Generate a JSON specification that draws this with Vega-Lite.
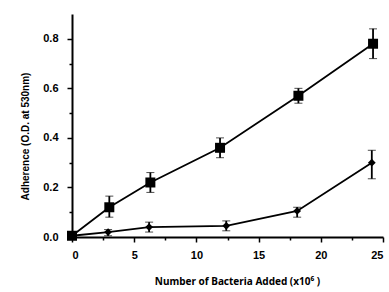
{
  "$schema": "https://vega.github.io/schema/vega-lite/v6.json",
  "width": 311,
  "height": 223,
  "autosize": "none",
  "padding": {"left": 72, "top": 14, "right": 6, "bottom": 55},
  "config": {
    "view": {"stroke": null},
    "font": "Liberation Sans",
    "axis": {
      "domainColor": "black", "domainWidth": 2,
      "tickColor": "black", "tickWidth": 1.5, "tickSize": 5,
      "grid": false,
      "labelFont": "Liberation Sans", "labelFontWeight": "bold", "labelFontSize": 11, "labelColor": "black",
      "titleFont": "Liberation Sans", "titleFontWeight": "bold", "titleFontSize": 10, "titleColor": "black"
    }
  },
  "data": {
    "values": [
      {"s": "A", "x": 0, "y": 0.005, "lo": 0.0, "hi": 0.01},
      {"s": "A", "x": 3.0, "y": 0.12, "lo": 0.08, "hi": 0.165},
      {"s": "A", "x": 6.3, "y": 0.22, "lo": 0.18, "hi": 0.26},
      {"s": "A", "x": 11.9, "y": 0.36, "lo": 0.32, "hi": 0.40},
      {"s": "A", "x": 18.2, "y": 0.57, "lo": 0.54, "hi": 0.60},
      {"s": "A", "x": 24.2, "y": 0.78, "lo": 0.72, "hi": 0.84},
      {"s": "B", "x": 0, "y": 0.005, "lo": 0.0, "hi": 0.01},
      {"s": "B", "x": 2.9, "y": 0.02, "lo": 0.005, "hi": 0.03},
      {"s": "B", "x": 6.2, "y": 0.04, "lo": 0.02, "hi": 0.06},
      {"s": "B", "x": 12.4, "y": 0.045, "lo": 0.025, "hi": 0.065},
      {"s": "B", "x": 18.1, "y": 0.105, "lo": 0.08, "hi": 0.12},
      {"s": "B", "x": 24.1, "y": 0.30, "lo": 0.235, "hi": 0.35}
    ]
  },
  "layer": [
    {
      "mark": {"type": "line", "color": "black", "strokeWidth": 1.8},
      "encoding": {
        "x": {"field": "x", "type": "quantitative", "scale": {"domain": [0, 25], "nice": false},
              "axis": {"values": [0, 5, 10, 15, 20, 25], "labelPadding": 7, "title": "Number of Bacteria Added (x10⁶ )", "titleFont": "Noto Sans", "titlePadding": 16, "titleX": 165}},
        "y": {"field": "y", "type": "quantitative", "scale": {"domain": [0, 0.9], "nice": false},
              "axis": {"values": [0, 0.2, 0.4, 0.6, 0.8], "format": ".1f", "labelPadding": 9, "title": "Adherence (O.D. at 530nm)", "titlePadding": 12, "titleY": 122}},
        "detail": {"field": "s"}
      }
    },
    {
      "mark": {"type": "errorbar", "ticks": {"size": 8, "color": "black", "strokeWidth": 1.8}, "rule": {"strokeWidth": 1.8}, "color": "black"},
      "encoding": {
        "x": {"field": "x", "type": "quantitative", "axis": null},
        "y": {"field": "lo", "type": "quantitative", "axis": null},
        "y2": {"field": "hi"}
      }
    },
    {
      "mark": {"type": "point", "filled": true, "color": "black", "opacity": 1},
      "encoding": {
        "x": {"field": "x", "type": "quantitative", "axis": null},
        "y": {"field": "y", "type": "quantitative", "axis": null},
        "shape": {"field": "s", "scale": {"domain": ["A", "B"], "range": ["square", "diamond"]}, "legend": null},
        "size": {"field": "s", "scale": {"domain": ["A", "B"], "range": [100, 60]}, "legend": null}
      }
    },
    {
      "mark": {"type": "point", "opacity": 0},
      "encoding": {
        "x": {"field": "x", "type": "quantitative",
              "axis": {"orient": "bottom", "values": [2.5, 7.5, 12.5, 17.5, 22.5], "labels": false, "domain": false, "tickSize": 3, "title": null}},
        "y": {"field": "y", "type": "quantitative",
              "axis": {"orient": "left", "values": [0.1, 0.3, 0.5, 0.7], "labels": false, "domain": false, "tickSize": 3, "title": null}}
      }
    }
  ],
  "resolve": {"axis": {"x": "independent", "y": "independent"}}
}
